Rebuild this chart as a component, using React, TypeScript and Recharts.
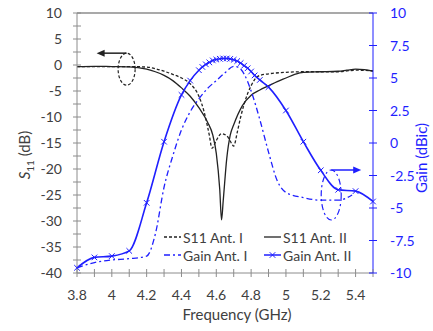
import React from 'react'
import { LineChart, Line, XAxis, YAxis, ReferenceLine, ReferenceDot, Label } from 'recharts'

const BLUE = '#1f1fff'
const DARK = '#222222'
const AXIS = '#8c8c8c'
const TEXT = '#404040'
const FONT = 'Lato, "Liberation Sans", sans-serif'

// S11 Ant. I (dashed)
const s11IFreq = [3.8, 3.9, 4.0, 4.1, 4.2, 4.25, 4.3, 4.35, 4.4, 4.45, 4.5, 4.53, 4.56, 4.575, 4.6, 4.63, 4.66, 4.69, 4.7, 4.72, 4.74, 4.76, 4.78, 4.8, 4.82, 4.85, 4.9, 5.0, 5.1, 5.2, 5.3, 5.4, 5.5]
const s11IVal = [-0.3, -0.3, -0.3, -0.3, -0.4, -0.7, -1.2, -1.8, -2.5, -3.6, -6, -9, -13.5, -16, -14.5, -13.2, -13.6, -15.2, -15.6, -13, -10, -7.5, -5.5, -4, -2.8, -2.0, -1.7, -1.4, -1.3, -1.3, -1.3, -1.0, -1.1]

// S11 Ant. II (solid)
const s11IIFreq = [3.8, 3.9, 4.0, 4.1, 4.2, 4.25, 4.3, 4.35, 4.4, 4.45, 4.5, 4.55, 4.58, 4.6, 4.62, 4.63, 4.64, 4.66, 4.68, 4.7, 4.75, 4.8, 4.85, 4.9, 4.95, 5.0, 5.05, 5.1, 5.2, 5.3, 5.35, 5.4, 5.45, 5.5]
const s11IIVal = [-0.3, -0.25, -0.3, -0.35, -0.8, -1.3, -2.0, -3.0, -4.4, -6.0, -8.2, -11, -13.5, -17, -24, -29.8, -26, -18, -13.5, -11.5, -7.8, -5.8, -4.8, -4.0, -3.2, -2.5, -1.8, -1.4, -1.3, -1.2, -1.0, -0.8, -0.9, -1.2]

// Gain Ant. I (dash-dot)
const gainIFreq = [3.8, 3.9, 4.0, 4.1, 4.2, 4.25, 4.3, 4.35, 4.4, 4.45, 4.5, 4.55, 4.6, 4.65, 4.7, 4.73, 4.76, 4.8, 4.85, 4.9, 4.95, 5.0, 5.1, 5.2, 5.3, 5.38]
const gainIVal = [-9.6, -9.2, -9.0, -8.9, -8.7, -7.0, -3.4, -1.0, 1.0, 2.4, 3.4, 4.2, 4.8, 5.4, 5.9, 5.8, 5.3, 4.0, 1.8, -0.7, -2.9, -3.8, -4.2, -4.4, -4.4, -4.0]

// Gain Ant. II (solid with x markers)
const gainIIFreq = [3.8, 3.9, 4.0, 4.1, 4.2, 4.3, 4.4, 4.45, 4.5, 4.52, 4.54, 4.56, 4.58, 4.6, 4.62, 4.64, 4.66, 4.68, 4.7, 4.72, 4.74, 4.76, 4.78, 4.8, 4.82, 4.85, 4.9, 5.0, 5.1, 5.2, 5.3, 5.4, 5.5]
const gainIIVal = [-9.6, -8.8, -8.7, -8.3, -4.6, 0.1, 3.7, 4.8, 5.6, 5.85, 6.05, 6.2, 6.35, 6.42, 6.48, 6.5, 6.5, 6.47, 6.4, 6.3, 6.15, 5.95, 5.75, 5.5, 5.2, 4.85, 4.3, 2.5, 0.1, -2.1, -3.6, -3.7, -4.5]

const xTicks = [3.8, 3.9, 4.0, 4.1, 4.2, 4.3, 4.4, 4.5, 4.6, 4.7, 4.8, 4.9, 5.0, 5.1, 5.2, 5.3, 5.4, 5.5]
const xLabels = [3.8, 4.0, 4.2, 4.4, 4.6, 4.8, 5.0, 5.2, 5.4]
const leftTicks = [-40, -37.5, -35, -32.5, -30, -27.5, -25, -22.5, -20, -17.5, -15, -12.5, -10, -7.5, -5, -2.5, 0, 2.5, 5, 7.5, 10]
const rightTicks = [-10, -7.5, -5, -2.5, 0, 2.5, 5, 7.5, 10]

const zip = (xs: number[], ys: number[]) => xs.map((x, i) => ({ x, y: ys[i] }))
const s11I = zip(s11IFreq, s11IVal)
const s11II = zip(s11IIFreq, s11IIVal)
const gainI = zip(gainIFreq, gainIVal)
const gainII = zip(gainIIFreq, gainIIVal)

const XTick = (p: any) => {
  const v = p.payload.value
  const show = xLabels.some((l) => Math.abs(l - v) < 1e-6)
  return (
    <g>
      <line x1={p.x} x2={p.x} y1={p.y - 4} y2={p.y + 4} stroke={AXIS} />
      {show && (
        <text x={p.x} y={p.y + 27} textAnchor="middle" fill={TEXT} fontSize={14} fontFamily={FONT}>
          {Number(v.toFixed(1)).toString()}
        </text>
      )}
    </g>
  )
}

const LeftTick = (p: any) => {
  const v = p.payload.value
  return (
    <g>
      <line x1={p.x - 4} x2={p.x + 4} y1={p.y} y2={p.y} stroke={AXIS} />
      {v % 5 === 0 && (
        <text x={p.x - 15} y={p.y + 5} textAnchor="end" fill={TEXT} fontSize={14} fontFamily={FONT}>
          {v}
        </text>
      )}
    </g>
  )
}

const RightTick = (p: any) => (
  <g>
    <line x1={p.x - 4} x2={p.x + 4} y1={p.y} y2={p.y} stroke={BLUE} />
    <text x={p.x + 17} y={p.y + 5} textAnchor="start" fill={BLUE} fontSize={14} fontFamily={FONT}>
      {p.payload.value}
    </text>
  </g>
)

const XMark = (p: any) => {
  if (p.cx == null) return null
  const s = 2.8
  return (
    <g>
      <line x1={p.cx - s} y1={p.cy - s} x2={p.cx + s} y2={p.cy + s} stroke={BLUE} strokeWidth={1} />
      <line x1={p.cx - s} y1={p.cy + s} x2={p.cx + s} y2={p.cy - s} stroke={BLUE} strokeWidth={1} />
    </g>
  )
}

const Callout = (color: string, dash: string, rx: number, ry: number, dir: number) => (p: any) => {
  const { cx, cy } = p
  const ty = cy - ry
  const tip = cx + dir * 30
  return (
    <g>
      <ellipse cx={cx} cy={cy} rx={rx} ry={ry} fill="none" stroke={color} strokeWidth={1.2} strokeDasharray={dash} />
      <line x1={cx} y1={ty} x2={tip - dir * 6} y2={ty} stroke={color} strokeWidth={1.5} />
      <polygon points={`${tip},${ty} ${tip - dir * 8},${ty - 3.5} ${tip - dir * 8},${ty + 3.5}`} fill={color} />
    </g>
  )
}

const Sample = ({ kind }: { kind: string }) => {
  const line =
    kind === 's1' ? <line x1={0} x2={17} y1={6} y2={6} stroke={DARK} strokeWidth={1.3} strokeDasharray="3 2" /> :
    kind === 's2' ? <line x1={0} x2={17} y1={6} y2={6} stroke={DARK} strokeWidth={1.3} /> :
    kind === 'g1' ? <line x1={0} x2={17} y1={6} y2={6} stroke={BLUE} strokeWidth={1.3} strokeDasharray="6 3 2 3" /> :
    <g><line x1={0} x2={17} y1={6} y2={6} stroke={BLUE} strokeWidth={1.5} /><XMark cx={8.5} cy={6} /></g>
  return <svg width={18} height={12} style={{ marginRight: 1 }}>{line}</svg>
}

const legendItems = [
  { kind: 's1', label: 'S11 Ant. I' },
  { kind: 's2', label: 'S11 Ant. II' },
  { kind: 'g1', label: 'Gain Ant. I' },
  { kind: 'g2', label: 'Gain Ant. II' },
]

const LegendBox = () => (
  <div
    style={{
      position: 'absolute', left: 164, top: 229,
      display: 'grid', gridTemplateColumns: '100px 100px', rowGap: 2,
      fontFamily: FONT, fontSize: 14, color: TEXT,
    }}
  >
    {legendItems.map((it) => (
      <div key={it.kind} style={{ display: 'flex', alignItems: 'center', height: 16, whiteSpace: 'nowrap' }}>
        <Sample kind={it.kind} />
        <span>{it.label}</span>
      </div>
    ))}
  </div>
)

export default function App() {
  return (
    <div style={{ position: 'absolute', left: 0, top: 0, width: 433, height: 331, background: '#fff' }}>
      <LineChart width={433} height={331} margin={{ top: 13, right: 0, bottom: 0, left: 0 }}>
        <XAxis
          dataKey="x"
          type="number"
          domain={[3.8, 5.5]}
          ticks={xTicks}
          interval={0}
          height={58}
          stroke={AXIS}
          tickSize={0}
          tickMargin={0}
          tick={<XTick />}
          allowDuplicatedCategory={false}
        >
          <Label
            content={(props: any) => {
              const vb = props.viewBox
              return (
                <text x={vb.x + vb.width / 2 + 12} y={vb.y + 47} textAnchor="middle" fill={TEXT} fontSize={15} fontFamily={FONT}>
                  Frequency (GHz)
                </text>
              )
            }}
          />
        </XAxis>
        <YAxis
          yAxisId="left"
          type="number"
          domain={[-40, 10]}
          ticks={leftTicks}
          interval={0}
          width={77}
          stroke={AXIS}
          tickSize={0}
          tickMargin={0}
          tick={<LeftTick />}
        >
          <Label
            content={(props: any) => {
              const vb = props.viewBox
              const cy = vb.y + vb.height / 2 + 12
              return (
                <text transform={`translate(30, ${cy}) rotate(-90)`} textAnchor="middle" fill={TEXT} fontSize={15} fontFamily={FONT}>
                  <tspan fontStyle="italic">S</tspan>
                  <tspan fontSize={10} dy={4}>11</tspan>
                  <tspan dy={-4}> (dB)</tspan>
                </text>
              )
            }}
          />
        </YAxis>
        <YAxis
          yAxisId="right"
          orientation="right"
          type="number"
          domain={[-10, 10]}
          ticks={rightTicks}
          interval={0}
          width={60}
          stroke={BLUE}
          tickSize={0}
          tickMargin={0}
          tick={<RightTick />}
        >
          <Label
            content={(props: any) => {
              const vb = props.viewBox
              const cy = vb.y + vb.height / 2 + 15
              return (
                <text transform={`translate(427, ${cy}) rotate(-90)`} textAnchor="middle" fill={BLUE} fontSize={15} fontFamily={FONT}>
                  Gain (dBic)
                </text>
              )
            }}
          />
        </YAxis>
        <ReferenceLine yAxisId="left" y={10} stroke={AXIS} strokeWidth={1.5} />
        <Line yAxisId="left" data={s11I} dataKey="y" type="monotone" stroke={DARK} strokeWidth={1.3} strokeDasharray="3 2" dot={false} isAnimationActive={false} />
        <Line yAxisId="left" data={s11II} dataKey="y" type="monotone" stroke={DARK} strokeWidth={1.3} dot={false} isAnimationActive={false} />
        <Line yAxisId="right" data={gainI} dataKey="y" type="monotone" stroke={BLUE} strokeWidth={1.3} strokeDasharray="6 3 2 3" dot={false} isAnimationActive={false} />
        <Line yAxisId="right" data={gainII} dataKey="y" type="monotone" stroke={BLUE} strokeWidth={1.6} dot={<XMark />} isAnimationActive={false} />
        <ReferenceDot yAxisId="left" x={4.085} y={-0.8} r={1} shape={Callout(DARK, '3 2', 8.5, 16, -1)} />
        <ReferenceDot yAxisId="right" x={5.26} y={-4} r={1} shape={Callout(BLUE, '6 3 2 3', 10, 25, 1)} />
      </LineChart>
      <LegendBox />
    </div>
  )
}
